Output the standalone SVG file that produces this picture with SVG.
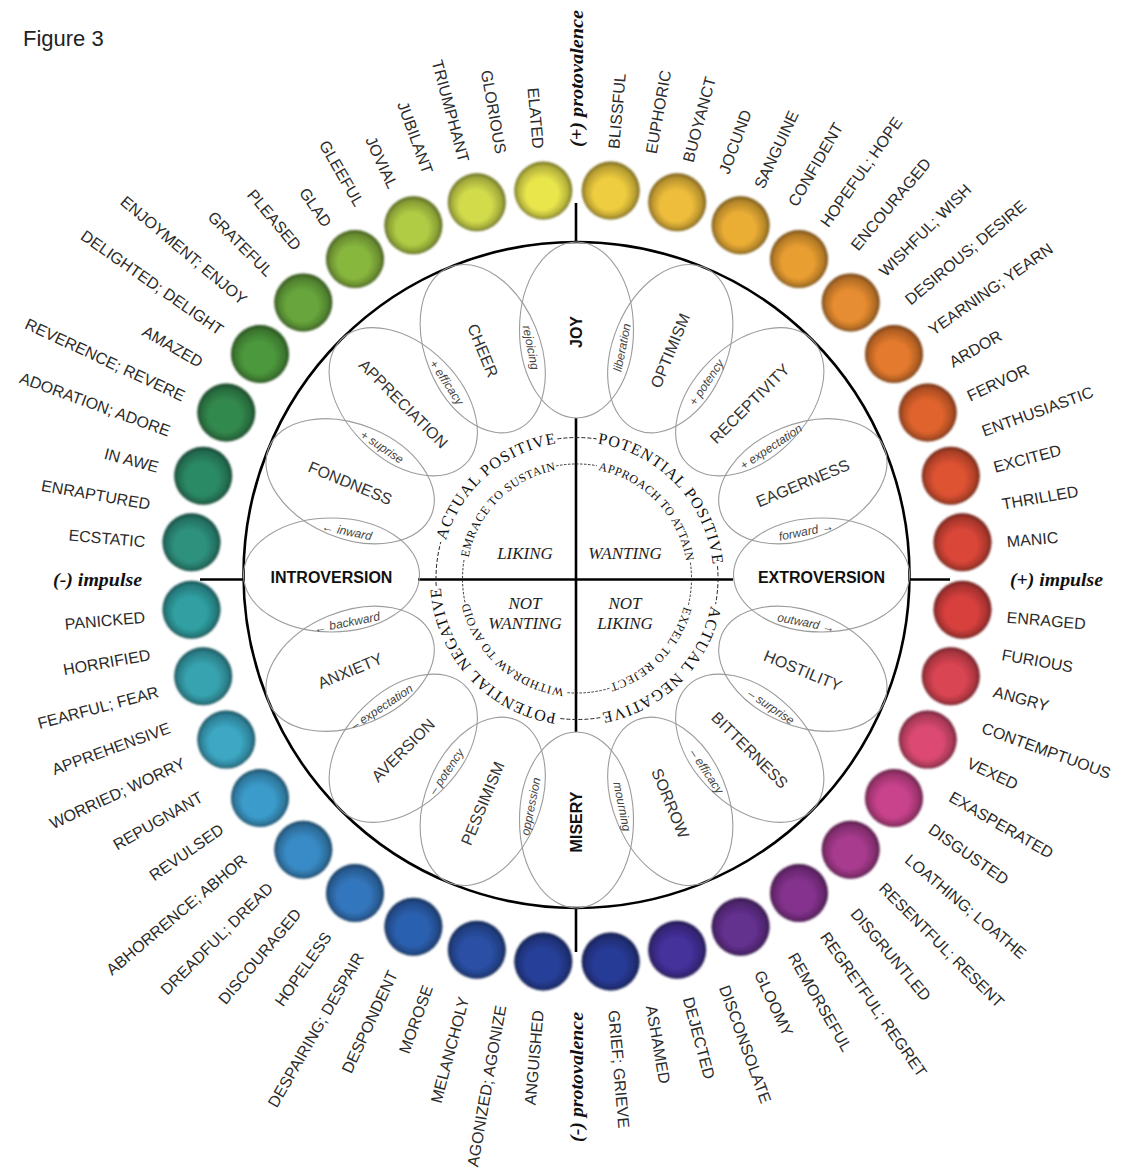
<svg xmlns="http://www.w3.org/2000/svg" width="1122" height="1171" viewBox="0 0 1122 1171">
<style>
  .lb { font-family: "Liberation Sans", Arial, sans-serif; font-size: 16px; fill: #2b2b2b; dominant-baseline: central; }
  .R text { text-anchor: start; }
  .L text { text-anchor: end; }
  .sp { font-family: "Liberation Serif", "Times New Roman", serif; font-weight: bold; font-style: italic; font-size: 19px; fill: #111; dominant-baseline: central; }
  .el { fill: none; stroke: #9c9c9c; stroke-width: 1.1; }
  .en { font-family: "Liberation Sans", Arial, sans-serif; font-size: 16px; fill: #333; text-anchor: middle; dominant-baseline: central; }
  .eb { font-weight: bold; fill: #111; }
  .sm { font-family: "Liberation Sans", Arial, sans-serif; font-style: italic; font-size: 12px; fill: #444; text-anchor: middle; dominant-baseline: central; }
  .rg { font-family: "Liberation Serif", "Times New Roman", serif; font-size: 16px; fill: #111; }
  .rg2 { font-family: "Liberation Serif", "Times New Roman", serif; font-size: 12px; fill: #111; }
  .cl { font-family: "Liberation Serif", "Times New Roman", serif; font-style: italic; font-size: 17px; fill: #222; text-anchor: middle; }
  .ax { stroke: #000; stroke-width: 2.6; fill: none; }
  .ds { stroke: #222; stroke-width: 1; stroke-dasharray: 4 2; fill: none; }
  .dt { stroke: #222; stroke-width: 0.9; stroke-dasharray: 2.5 1.5; fill: none; }
</style>
<defs>
  <radialGradient id="shade" cx="0.5" cy="0.5" r="0.5" fx="0.45" fy="0.64">
    <stop offset="0.55" stop-color="#000" stop-opacity="0"/>
    <stop offset="0.88" stop-color="#000" stop-opacity="0.24"/>
    <stop offset="1" stop-color="#000" stop-opacity="0.52"/>
  </radialGradient>
  <filter id="soft" x="-10%" y="-10%" width="120%" height="120%">
    <feGaussianBlur stdDeviation="0.9"/>
  </filter>
  <path id="ringOuter" d="M577 442 A136.5 136.5 0 1 1 577 715 A136.5 136.5 0 1 1 577 442"/>
  <path id="ringInner" d="M577 468 A110.5 110.5 0 1 1 577 689 A110.5 110.5 0 1 1 577 468"/>
</defs>

<rect width="1122" height="1171" fill="#fff"/>
<text x="23" y="46" font-family="Liberation Sans, Arial, sans-serif" font-size="22" fill="#222">Figure 3</text>

<!-- colour ring -->
<g id="dots" filter="url(#soft)">
  <g fill="#efcd3f"><circle cx="610.7" cy="190.5" r="29"/></g>
  <g fill="#eebd3b"><circle cx="677.2" cy="202.2" r="29"/></g>
  <g fill="#ebae35"><circle cx="740.6" cy="225.3" r="29"/></g>
  <g fill="#e99e31"><circle cx="799.0" cy="259.0" r="29"/></g>
  <g fill="#e68c30"><circle cx="850.7" cy="302.4" r="29"/></g>
  <g fill="#e47a2d"><circle cx="894.0" cy="354.0" r="29"/></g>
  <g fill="#e0642d"><circle cx="927.7" cy="412.5" r="29"/></g>
  <g fill="#de5232"><circle cx="950.8" cy="475.8" r="29"/></g>
  <g fill="#da4638"><circle cx="962.5" cy="542.3" r="29"/></g>
  <g fill="#d8403e"><circle cx="962.5" cy="609.7" r="29"/></g>
  <g fill="#da4452"><circle cx="950.8" cy="676.2" r="29"/></g>
  <g fill="#dc4a72"><circle cx="927.7" cy="739.6" r="29"/></g>
  <g fill="#c8428c"><circle cx="894.0" cy="798.0" r="29"/></g>
  <g fill="#a83a8e"><circle cx="850.7" cy="849.7" r="29"/></g>
  <g fill="#85328e"><circle cx="799.0" cy="893.0" r="29"/></g>
  <g fill="#64308f"><circle cx="740.6" cy="926.7" r="29"/></g>
  <g fill="#44309a"><circle cx="677.2" cy="949.8" r="29"/></g>
  <g fill="#283a96"><circle cx="610.7" cy="961.5" r="29"/></g>
  <g fill="#27409a"><circle cx="543.3" cy="961.5" r="29"/></g>
  <g fill="#2a4fa5"><circle cx="476.8" cy="949.8" r="29"/></g>
  <g fill="#2c60b0"><circle cx="413.4" cy="926.7" r="29"/></g>
  <g fill="#3376bd"><circle cx="355.0" cy="893.0" r="29"/></g>
  <g fill="#398bc6"><circle cx="303.3" cy="849.7" r="29"/></g>
  <g fill="#3b9bcb"><circle cx="260.0" cy="798.0" r="29"/></g>
  <g fill="#3ca7c4"><circle cx="226.3" cy="739.6" r="29"/></g>
  <g fill="#37a3b0"><circle cx="203.2" cy="676.2" r="29"/></g>
  <g fill="#30a0a2"><circle cx="191.5" cy="609.7" r="29"/></g>
  <g fill="#2e917e"><circle cx="191.5" cy="542.3" r="29"/></g>
  <g fill="#2c8a66"><circle cx="203.2" cy="475.8" r="29"/></g>
  <g fill="#33894e"><circle cx="226.3" cy="412.5" r="29"/></g>
  <g fill="#4c983c"><circle cx="260.0" cy="354.0" r="29"/></g>
  <g fill="#67a63c"><circle cx="303.3" cy="302.4" r="29"/></g>
  <g fill="#88b73e"><circle cx="355.0" cy="259.0" r="29"/></g>
  <g fill="#b0cc44"><circle cx="413.4" cy="225.3" r="29"/></g>
  <g fill="#d2dc4c"><circle cx="476.8" cy="202.2" r="29"/></g>
  <g fill="#e9e64c"><circle cx="543.3" cy="190.5" r="29"/></g>
  <!-- recessed shading on every disc -->
  <g fill="url(#shade)">
    <circle cx="610.7" cy="190.5" r="29"/><circle cx="677.2" cy="202.2" r="29"/><circle cx="740.6" cy="225.3" r="29"/>
    <circle cx="799.0" cy="259.0" r="29"/><circle cx="850.7" cy="302.4" r="29"/><circle cx="894.0" cy="354.0" r="29"/>
    <circle cx="927.7" cy="412.5" r="29"/><circle cx="950.8" cy="475.8" r="29"/><circle cx="962.5" cy="542.3" r="29"/>
    <circle cx="962.5" cy="609.7" r="29"/><circle cx="950.8" cy="676.2" r="29"/><circle cx="927.7" cy="739.6" r="29"/>
    <circle cx="894.0" cy="798.0" r="29"/><circle cx="850.7" cy="849.7" r="29"/><circle cx="799.0" cy="893.0" r="29"/>
    <circle cx="740.6" cy="926.7" r="29"/><circle cx="677.2" cy="949.8" r="29"/><circle cx="610.7" cy="961.5" r="29"/>
    <circle cx="543.3" cy="961.5" r="29"/><circle cx="476.8" cy="949.8" r="29"/><circle cx="413.4" cy="926.7" r="29"/>
    <circle cx="355.0" cy="893.0" r="29"/><circle cx="303.3" cy="849.7" r="29"/><circle cx="260.0" cy="798.0" r="29"/>
    <circle cx="226.3" cy="739.6" r="29"/><circle cx="203.2" cy="676.2" r="29"/><circle cx="191.5" cy="609.7" r="29"/>
    <circle cx="191.5" cy="542.3" r="29"/><circle cx="203.2" cy="475.8" r="29"/><circle cx="226.3" cy="412.5" r="29"/>
    <circle cx="260.0" cy="354.0" r="29"/><circle cx="303.3" cy="302.4" r="29"/><circle cx="355.0" cy="259.0" r="29"/>
    <circle cx="413.4" cy="225.3" r="29"/><circle cx="476.8" cy="202.2" r="29"/><circle cx="543.3" cy="190.5" r="29"/>
  </g>
</g>

<!-- outer word labels, right half reads outward, left half reads inward -->
<g id="labels-right" class="lb R">
  <text x="1008.5" y="579.5" transform="rotate(-85 576 579.5)">BLISSFUL</text>
  <text x="1008.5" y="579.5" transform="rotate(-80 576 579.5)">EUPHORIC</text>
  <text x="1008.5" y="579.5" transform="rotate(-75 576 579.5)">BUOYANCT</text>
  <text x="1008.5" y="579.5" transform="rotate(-70 576 579.5)">JOCUND</text>
  <text x="1008.5" y="579.5" transform="rotate(-65 576 579.5)">SANGUINE</text>
  <text x="1008.5" y="579.5" transform="rotate(-60 576 579.5)">CONFIDENT</text>
  <text x="1008.5" y="579.5" transform="rotate(-55 576 579.5)">HOPEFUL; HOPE</text>
  <text x="1008.5" y="579.5" transform="rotate(-50 576 579.5)">ENCOURAGED</text>
  <text x="1008.5" y="579.5" transform="rotate(-45 576 579.5)">WISHFUL; WISH</text>
  <text x="1008.5" y="579.5" transform="rotate(-40 576 579.5)">DESIROUS; DESIRE</text>
  <text x="1008.5" y="579.5" transform="rotate(-35 576 579.5)">YEARNING; YEARN</text>
  <text x="1008.5" y="579.5" transform="rotate(-30 576 579.5)">ARDOR</text>
  <text x="1008.5" y="579.5" transform="rotate(-25 576 579.5)">FERVOR</text>
  <text x="1008.5" y="579.5" transform="rotate(-20 576 579.5)">ENTHUSIASTIC</text>
  <text x="1008.5" y="579.5" transform="rotate(-15 576 579.5)">EXCITED</text>
  <text x="1008.5" y="579.5" transform="rotate(-10 576 579.5)">THRILLED</text>
  <text x="1008.5" y="579.5" transform="rotate(-5 576 579.5)">MANIC</text>
  <text x="1008.5" y="579.5" transform="rotate(5 576 579.5)">ENRAGED</text>
  <text x="1008.5" y="579.5" transform="rotate(10 576 579.5)">FURIOUS</text>
  <text x="1008.5" y="579.5" transform="rotate(15 576 579.5)">ANGRY</text>
  <text x="1008.5" y="579.5" transform="rotate(20 576 579.5)">CONTEMPTUOUS</text>
  <text x="1008.5" y="579.5" transform="rotate(25 576 579.5)">VEXED</text>
  <text x="1008.5" y="579.5" transform="rotate(30 576 579.5)">EXASPERATED</text>
  <text x="1008.5" y="579.5" transform="rotate(35 576 579.5)">DISGUSTED</text>
  <text x="1008.5" y="579.5" transform="rotate(40 576 579.5)">LOATHING; LOATHE</text>
  <text x="1008.5" y="579.5" transform="rotate(45 576 579.5)">RESENTFUL; RESENT</text>
  <text x="1008.5" y="579.5" transform="rotate(50 576 579.5)">DISGRUNTLED</text>
  <text x="1008.5" y="579.5" transform="rotate(55 576 579.5)">REGRETFUL; REGRET</text>
  <text x="1008.5" y="579.5" transform="rotate(60 576 579.5)">REMORSEFUL</text>
  <text x="1008.5" y="579.5" transform="rotate(65 576 579.5)">GLOOMY</text>
  <text x="1008.5" y="579.5" transform="rotate(70 576 579.5)">DISCONSOLATE</text>
  <text x="1008.5" y="579.5" transform="rotate(75 576 579.5)">DEJECTED</text>
  <text x="1008.5" y="579.5" transform="rotate(80 576 579.5)">ASHAMED</text>
  <text x="1008.5" y="579.5" transform="rotate(85 576 579.5)">GRIEF; GRIEVE</text>
</g>
<g id="labels-left" class="lb L">
  <text x="143.5" y="579.5" transform="rotate(-85 576 579.5)">ANGUISHED</text>
  <text x="143.5" y="579.5" transform="rotate(-80 576 579.5)">AGONIZED; AGONIZE</text>
  <text x="143.5" y="579.5" transform="rotate(-75 576 579.5)">MELANCHOLY</text>
  <text x="143.5" y="579.5" transform="rotate(-70 576 579.5)">MOROSE</text>
  <text x="143.5" y="579.5" transform="rotate(-65 576 579.5)">DESPONDENT</text>
  <text x="143.5" y="579.5" transform="rotate(-60 576 579.5)">DESPAIRING; DESPAIR</text>
  <text x="143.5" y="579.5" transform="rotate(-55 576 579.5)">HOPELESS</text>
  <text x="143.5" y="579.5" transform="rotate(-50 576 579.5)">DISCOURAGED</text>
  <text x="143.5" y="579.5" transform="rotate(-45 576 579.5)">DREADFUL; DREAD</text>
  <text x="143.5" y="579.5" transform="rotate(-40 576 579.5)">ABHORRENCE; ABHOR</text>
  <text x="143.5" y="579.5" transform="rotate(-35 576 579.5)">REVULSED</text>
  <text x="143.5" y="579.5" transform="rotate(-30 576 579.5)">REPUGNANT</text>
  <text x="143.5" y="579.5" transform="rotate(-25 576 579.5)">WORRIED; WORRY</text>
  <text x="143.5" y="579.5" transform="rotate(-20 576 579.5)">APPREHENSIVE</text>
  <text x="143.5" y="579.5" transform="rotate(-15 576 579.5)">FEARFUL; FEAR</text>
  <text x="143.5" y="579.5" transform="rotate(-10 576 579.5)">HORRIFIED</text>
  <text x="143.5" y="579.5" transform="rotate(-5 576 579.5)">PANICKED</text>
  <text x="143.5" y="579.5" transform="rotate(5 576 579.5)">ECSTATIC</text>
  <text x="143.5" y="579.5" transform="rotate(10 576 579.5)">ENRAPTURED</text>
  <text x="143.5" y="579.5" transform="rotate(15 576 579.5)">IN AWE</text>
  <text x="143.5" y="579.5" transform="rotate(20 576 579.5)">ADORATION; ADORE</text>
  <text x="143.5" y="579.5" transform="rotate(25 576 579.5)">REVERENCE; REVERE</text>
  <text x="143.5" y="579.5" transform="rotate(30 576 579.5)">AMAZED</text>
  <text x="143.5" y="579.5" transform="rotate(35 576 579.5)">DELIGHTED; DELIGHT</text>
  <text x="143.5" y="579.5" transform="rotate(40 576 579.5)">ENJOYMENT; ENJOY</text>
  <text x="143.5" y="579.5" transform="rotate(45 576 579.5)">GRATEFUL</text>
  <text x="143.5" y="579.5" transform="rotate(50 576 579.5)">PLEASED</text>
  <text x="143.5" y="579.5" transform="rotate(55 576 579.5)">GLAD</text>
  <text x="143.5" y="579.5" transform="rotate(60 576 579.5)">GLEEFUL</text>
  <text x="143.5" y="579.5" transform="rotate(65 576 579.5)">JOVIAL</text>
  <text x="143.5" y="579.5" transform="rotate(70 576 579.5)">JUBILANT</text>
  <text x="143.5" y="579.5" transform="rotate(75 576 579.5)">TRIUMPHANT</text>
  <text x="143.5" y="579.5" transform="rotate(80 576 579.5)">GLORIOUS</text>
  <text x="143.5" y="579.5" transform="rotate(85 576 579.5)">ELATED</text>
</g>

<!-- axis poles -->
<g id="poles" class="sp">
  <text x="1008.5" y="579.5" text-anchor="start" textLength="137" lengthAdjust="spacingAndGlyphs" transform="rotate(-90 576 579.5)">(+) protovalence</text>
  <text x="1010" y="579.5" text-anchor="start" textLength="93" lengthAdjust="spacingAndGlyphs">(+) impulse</text>
  <text x="143.5" y="579.5" text-anchor="end" textLength="130" lengthAdjust="spacingAndGlyphs" transform="rotate(-90 576 579.5)">(-) protovalence</text>
  <text x="142" y="579.5" text-anchor="end" textLength="89" lengthAdjust="spacingAndGlyphs">(-) impulse</text>
</g>

<!-- frame and axes -->
<g id="connectors">
  <circle cx="576.5" cy="575" r="333" fill="none" stroke="#000" stroke-width="2.6"/>
  <path class="ax" d="M576 203 V242 M576 908 V952 M200 579.5 H244 M909 579.5 H950"/>
  <path class="ax" d="M576 418 V732 M418 579.5 H733"/>
  <!-- dashed links between the quadrant captions -->
  <path class="ds" d="M557.4 438.9 A141 141 0 0 1 596.6 438.9"/>
  <path class="ds" d="M717.5 566.2 A141 141 0 0 1 715.6 604.2"/>
  <path class="ds" d="M600.3 717.6 A141 141 0 0 1 558.6 718.3"/>
  <path class="ds" d="M436.2 585.9 A141 141 0 0 1 440.8 542.0"/>
  <path class="dt" d="M556.1 465.9 A114.5 114.5 0 0 1 596.9 465.7"/>
  <path class="dt" d="M690.4 562.6 A114.5 114.5 0 0 1 688.3 605.2"/>
  <path class="dt" d="M609.5 688.3 A114.5 114.5 0 0 1 566.0 692.5"/>
  <path class="dt" d="M465.0 602.3 A114.5 114.5 0 0 1 464.1 559.6"/>
</g>

<!-- petal nodes -->
<g id="joy"><ellipse class="el" cx="576.5" cy="330" rx="57" ry="88"/><text class="en eb" x="821.5" y="577" transform="rotate(-90 576.5 577)">JOY</text></g>
<g id="optimism"><ellipse class="el" cx="576.5" cy="330" rx="57" ry="88" transform="rotate(22.5 576.5 575)"/><text class="en" x="821.5" y="577" transform="rotate(-67.5 576.5 577)">OPTIMISM</text></g>
<g id="receptivity"><ellipse class="el" cx="576.5" cy="330" rx="57" ry="88" transform="rotate(45 576.5 575)"/><text class="en" x="821.5" y="577" transform="rotate(-45 576.5 577)">RECEPTIVITY</text></g>
<g id="eagerness"><ellipse class="el" cx="576.5" cy="330" rx="57" ry="88" transform="rotate(67.5 576.5 575)"/><text class="en" x="821.5" y="577" transform="rotate(-22.5 576.5 577)">EAGERNESS</text></g>
<g id="extroversion"><ellipse class="el" cx="576.5" cy="330" rx="57" ry="88" transform="rotate(90 576.5 575)"/><text class="en eb" x="821.5" y="577">EXTROVERSION</text></g>
<g id="hostility"><ellipse class="el" cx="576.5" cy="330" rx="57" ry="88" transform="rotate(112.5 576.5 575)"/><text class="en" x="821.5" y="577" transform="rotate(22.5 576.5 577)">HOSTILITY</text></g>
<g id="bitterness"><ellipse class="el" cx="576.5" cy="330" rx="57" ry="88" transform="rotate(135 576.5 575)"/><text class="en" x="821.5" y="577" transform="rotate(45 576.5 577)">BITTERNESS</text></g>
<g id="sorrow"><ellipse class="el" cx="576.5" cy="330" rx="57" ry="88" transform="rotate(157.5 576.5 575)"/><text class="en" x="821.5" y="577" transform="rotate(67.5 576.5 577)">SORROW</text></g>
<g id="misery"><ellipse class="el" cx="576.5" cy="330" rx="57" ry="88" transform="rotate(180 576.5 575)"/><text class="en eb" x="331.5" y="577" transform="rotate(-90 576.5 577)">MISERY</text></g>
<g id="pessimism"><ellipse class="el" cx="576.5" cy="330" rx="57" ry="88" transform="rotate(202.5 576.5 575)"/><text class="en" x="331.5" y="577" transform="rotate(-67.5 576.5 577)">PESSIMISM</text></g>
<g id="aversion"><ellipse class="el" cx="576.5" cy="330" rx="57" ry="88" transform="rotate(225 576.5 575)"/><text class="en" x="331.5" y="577" transform="rotate(-45 576.5 577)">AVERSION</text></g>
<g id="anxiety"><ellipse class="el" cx="576.5" cy="330" rx="57" ry="88" transform="rotate(247.5 576.5 575)"/><text class="en" x="331.5" y="577" transform="rotate(-22.5 576.5 577)">ANXIETY</text></g>
<g id="introversion"><ellipse class="el" cx="576.5" cy="330" rx="57" ry="88" transform="rotate(270 576.5 575)"/><text class="en eb" x="331.5" y="577">INTROVERSION</text></g>
<g id="fondness"><ellipse class="el" cx="576.5" cy="330" rx="57" ry="88" transform="rotate(292.5 576.5 575)"/><text class="en" x="331.5" y="577" transform="rotate(22.5 576.5 577)">FONDNESS</text></g>
<g id="appreciation"><ellipse class="el" cx="576.5" cy="330" rx="57" ry="88" transform="rotate(315 576.5 575)"/><text class="en" x="331.5" y="577" transform="rotate(45 576.5 577)">APPRECIATION</text></g>
<g id="cheer"><ellipse class="el" cx="576.5" cy="330" rx="57" ry="88" transform="rotate(337.5 576.5 575)"/><text class="en" x="331.5" y="577" transform="rotate(67.5 576.5 577)">CHEER</text></g>

<!-- overlap captions between neighbouring petals -->
<g id="overlap-labels" class="sm">
  <text x="810.5" y="577" transform="rotate(-78.75 576.5 577)">liberation</text>
  <text x="810.5" y="577" transform="rotate(-56.25 576.5 577)">+ potency</text>
  <text x="810.5" y="577" transform="rotate(-33.75 576.5 577)">+ expectation</text>
  <text x="810.5" y="577" transform="rotate(-11.25 576.5 577)">forward →</text>
  <text x="810.5" y="577" transform="rotate(11.25 576.5 577)">outward →</text>
  <text x="810.5" y="577" transform="rotate(33.75 576.5 577)">– surprise</text>
  <text x="810.5" y="577" transform="rotate(56.25 576.5 577)">– efficacy</text>
  <text x="810.5" y="577" transform="rotate(78.75 576.5 577)">mourning</text>
  <text x="342.5" y="577" transform="rotate(-78.75 576.5 577)">oppression</text>
  <text x="342.5" y="577" transform="rotate(-56.25 576.5 577)">– potency</text>
  <text x="342.5" y="577" transform="rotate(-33.75 576.5 577)">– expectation</text>
  <text x="342.5" y="577" transform="rotate(-11.25 576.5 577)">← backward</text>
  <text x="342.5" y="577" transform="rotate(11.25 576.5 577)">← inward</text>
  <text x="342.5" y="577" transform="rotate(33.75 576.5 577)">+ suprise</text>
  <text x="342.5" y="577" transform="rotate(56.25 576.5 577)">+ efficacy</text>
  <text x="342.5" y="577" transform="rotate(78.75 576.5 577)">rejoicing</text>
</g>

<!-- quadrant captions on the two inner rings -->
<g id="quadrant-rings">
  <text class="rg"><textPath href="#ringOuter" startOffset="681.4" textLength="154.9" lengthAdjust="spacing">ACTUAL POSITIVE</textPath></text>
  <text class="rg"><textPath href="#ringOuter" startOffset="20.5" textLength="179.6" lengthAdjust="spacing">POTENTIAL POSITIVE</textPath></text>
  <text class="rg"><textPath href="#ringOuter" startOffset="241.8" textLength="162" lengthAdjust="spacing">ACTUAL NEGATIVE</textPath></text>
  <text class="rg"><textPath href="#ringOuter" startOffset="449.1" textLength="184.6" lengthAdjust="spacing">POTENTIAL NEGATIVE</textPath></text>
  <text class="rg2"><textPath href="#ringInner" startOffset="541" textLength="131.1" lengthAdjust="spacing">EMRACE TO SUSTAIN</textPath></text>
  <text class="rg2"><textPath href="#ringInner" startOffset="21.2" textLength="135" lengthAdjust="spacing">APPROACH TO ATTAIN</textPath></text>
  <text class="rg2"><textPath href="#ringInner" startOffset="201.7" textLength="112.1" lengthAdjust="spacing">EXPEL TO REJECT</textPath></text>
  <text class="rg2"><textPath href="#ringInner" startOffset="359.9" textLength="135.8" lengthAdjust="spacing">WITHDRAW TO AVOID</textPath></text>
</g>

<!-- centre quadrants -->
<g id="liking"><text class="cl" x="525" y="559">LIKING</text></g>
<g id="wanting"><text class="cl" x="625" y="559">WANTING</text></g>
<g id="not-wanting"><text class="cl" x="525" y="609">NOT</text><text class="cl" x="525" y="629">WANTING</text></g>
<g id="not-liking"><text class="cl" x="625" y="609">NOT</text><text class="cl" x="625" y="629">LIKING</text></g>
</svg>
